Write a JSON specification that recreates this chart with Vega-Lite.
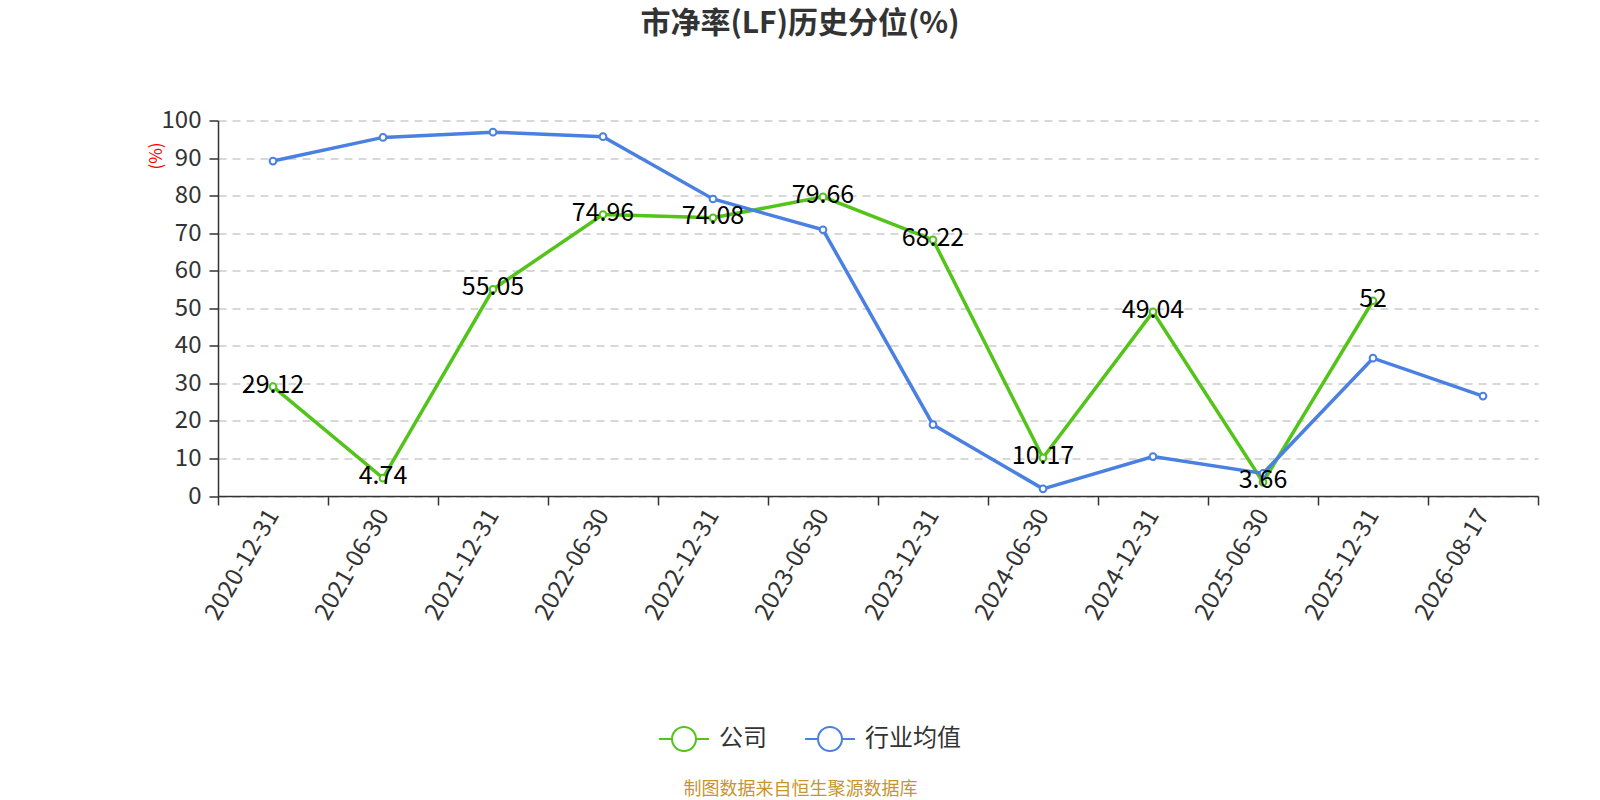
{
  "$schema": "https://vega.github.io/schema/vega-lite/v6.json",
  "width": 1320,
  "height": 375.5,
  "autosize": {"type": "none"},
  "padding": {"left": 218, "top": 120.5, "right": 62, "bottom": 304},
  "background": "white",
  "config": {
    "font": "Noto Sans CJK SC",
    "view": {"stroke": null}
  },
  "title": {
    "text": "市净率(LF)历史分位(%)",
    "fontSize": 30,
    "fontWeight": "bold",
    "color": "#333333",
    "anchor": "middle",
    "frame": "group",
    "baseline": "middle",
    "offset": 55,
    "dx": -78
  },
  "data": {
    "values": [
      {"date": "2020-12-31", "series": "公司", "value": 29.12},
      {"date": "2021-06-30", "series": "公司", "value": 4.74},
      {"date": "2021-12-31", "series": "公司", "value": 55.05},
      {"date": "2022-06-30", "series": "公司", "value": 74.96},
      {"date": "2022-12-31", "series": "公司", "value": 74.08},
      {"date": "2023-06-30", "series": "公司", "value": 79.66},
      {"date": "2023-12-31", "series": "公司", "value": 68.22},
      {"date": "2024-06-30", "series": "公司", "value": 10.17},
      {"date": "2024-12-31", "series": "公司", "value": 49.04},
      {"date": "2025-06-30", "series": "公司", "value": 3.66},
      {"date": "2025-12-31", "series": "公司", "value": 52},
      {"date": "2020-12-31", "series": "行业均值", "value": 89.2},
      {"date": "2021-06-30", "series": "行业均值", "value": 95.5},
      {"date": "2021-12-31", "series": "行业均值", "value": 96.9},
      {"date": "2022-06-30", "series": "行业均值", "value": 95.7},
      {"date": "2022-12-31", "series": "行业均值", "value": 79.1},
      {"date": "2023-06-30", "series": "行业均值", "value": 70.9},
      {"date": "2023-12-31", "series": "行业均值", "value": 19.0},
      {"date": "2024-06-30", "series": "行业均值", "value": 1.9},
      {"date": "2024-12-31", "series": "行业均值", "value": 10.5},
      {"date": "2025-06-30", "series": "行业均值", "value": 6.0},
      {"date": "2025-12-31", "series": "行业均值", "value": 36.7},
      {"date": "2026-08-17", "series": "行业均值", "value": 26.6}
    ]
  },
  "encoding": {
    "x": {
      "field": "date",
      "type": "ordinal",
      "sort": null,
      "scale": {"type": "band", "paddingInner": 0, "paddingOuter": 0},
      "axis": {
        "title": "制图数据来自恒生聚源数据库",
        "titleFontSize": 18,
        "titleFontWeight": "normal",
        "titleColor": "#C8952C",
        "titleX": 582,
        "titleY": 293,
        "titleAlign": "center",
        "titleBaseline": "middle",
        "titleAngle": 0,
        "tickBand": "extent",
        "labelAngle": -60,
        "labelAlign": "right",
        "labelBaseline": "middle",
        "labelFontSize": 24,
        "labelColor": "#333333",
        "labelPadding": 6,
        "domainColor": "#333333",
        "domainWidth": 1.5,
        "tickColor": "#333333",
        "tickSize": 9,
        "tickWidth": 1.5,
        "grid": false
      }
    },
    "y": {
      "field": "value",
      "type": "quantitative",
      "scale": {"domain": [0, 100], "nice": false},
      "axis": {
        "title": "(%)",
        "titleColor": "red",
        "titleFontSize": 17,
        "titleFontWeight": "normal",
        "titleAngle": -90,
        "titleX": -61.5,
        "titleY": 35,
        "titleAlign": "center",
        "titleBaseline": "middle",
        "values": [0, 10, 20, 30, 40, 50, 60, 70, 80, 90, 100],
        "labelFontSize": 24,
        "labelColor": "#333333",
        "labelPadding": 8,
        "domainColor": "#333333",
        "domainWidth": 1.5,
        "tickColor": "#333333",
        "tickSize": 9,
        "tickWidth": 1.5,
        "grid": true,
        "gridColor": "#cccccc",
        "gridDash": [8, 6],
        "gridWidth": 1.5
      }
    },
    "color": {
      "field": "series",
      "type": "nominal",
      "scale": {"domain": ["公司", "行业均值"], "range": ["#52C41A", "#4A80E2"]},
      "legend": {
        "title": null,
        "orient": "none",
        "direction": "horizontal",
        "legendX": 453,
        "legendY": 605.5,
        "symbolType": "M-2.08,0L-1,0M1,0L2.08,0M-1,0A1,1 0 1,0 1,0A1,1 0 1,0 -1,0",
        "symbolSize": 576,
        "symbolStrokeWidth": 2,
        "labelOffset": 22,
        "columnPadding": 34,
        "labelFontSize": 24,
        "labelColor": "#333333",
        "labelBaseline": "middle",
        "encode": {
          "symbols": {"update": {"fill": {"value": "white"}, "strokeWidth": {"value": 2}}}
        }
      }
    }
  },
  "layer": [
    {
      "mark": {"type": "line", "strokeWidth": 3.5}
    },
    {
      "mark": {"type": "point", "shape": "circle", "filled": false, "fill": "white", "size": 45, "strokeWidth": 2, "opacity": 1}
    },
    {
      "transform": [{"filter": "datum.series === '公司'"}],
      "mark": {"type": "text", "fontSize": 25, "color": "#000000", "align": "center", "baseline": "middle", "dy": -2},
      "encoding": {
        "text": {"field": "value", "type": "quantitative"},
        "color": {"value": "#000000"}
      }
    }
  ]
}
